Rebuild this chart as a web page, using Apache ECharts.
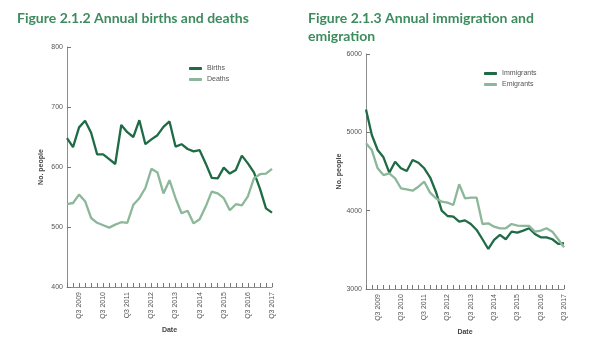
<!DOCTYPE html>
<html>
<head>
<meta charset="utf-8">
<script src="https://cdn.jsdelivr.net/npm/echarts@6/dist/echarts.min.js"></script>
<style>
  html, body { margin: 0; padding: 0; background: #fff; }
  #chart { width: 600px; height: 351px; }
</style>
</head>
<body>
<div id="chart"></div>
<script>
// quarters Q1 2009 .. Q3 2017
const quarters = [];
for (let y = 2009; y <= 2017; y++) {
  for (let q = 1; q <= 4; q++) {
    if (y === 2017 && q > 3) break;
    quarters.push('Q' + q + ' ' + y);
  }
}

const births = [648, 633, 666, 677, 657, 621, 621, 613, 605, 670, 658, 650, 678, 638, 646, 653, 667, 676,
  634, 638, 630, 626, 628, 606, 582, 581, 599, 589, 595, 619, 606, 591, 564, 531, 524];
const deaths = [538, 540, 554, 543, 515, 507, 503, 499, 504, 508, 507, 537, 548, 565, 597, 591, 556, 578,
  548, 523, 527, 506, 513, 534, 559, 556, 548, 528, 538, 536, 551, 581, 588, 589, 597];

const immigrants = [5293, 4966, 4774, 4681, 4485, 4625, 4541, 4506, 4647, 4612, 4541, 4426, 4242, 4000, 3932, 3923, 3860, 3876,
  3830, 3754, 3635, 3511, 3626, 3690, 3635, 3732, 3719, 3745, 3775, 3703, 3660, 3660, 3635, 3575, 3584];
const emigrants = [4860, 4774, 4541, 4455, 4477, 4413, 4286, 4273, 4255, 4306, 4370, 4230, 4158, 4115, 4102, 4073, 4338, 4158,
  4166, 4166, 3830, 3839, 3796, 3775, 3775, 3830, 3809, 3805, 3805, 3732, 3745, 3775, 3732, 3635, 3533];

const dark = '#1f6b45';
const light = '#8db79a';
const titleGreen = '#3d8c5e';
const axisGrey = '#8c8c8c';
const font = 'Liberation Sans';

function xAxis(gridIndex) {
  return {
    type: 'category',
    gridIndex: gridIndex,
    data: quarters,
    boundaryGap: false,
    name: 'Date',
    nameLocation: 'middle',
    nameGap: 30,
    nameTextStyle: {fontSize: 7, fontWeight: 'bold', color: '#444', fontFamily: font},
    axisLine: {lineStyle: {color: axisGrey, width: 1}},
    axisTick: {inside: true, length: 4, interval: 0, lineStyle: {color: '#777'}},
    axisLabel: {
      rotate: 90,
      fontSize: 7,
      color: '#555',
      fontFamily: font,
      margin: 5,
      interval: function (index) { return (index - 2) % 4 === 0; }
    },
    splitLine: {show: false}
  };
}

function yAxis(gridIndex, min, max, interval) {
  return {
    type: 'value',
    gridIndex: gridIndex,
    min: min,
    max: max,
    interval: interval,
    name: 'No. people',
    nameLocation: 'middle',
    nameGap: 22,
    nameTextStyle: {fontSize: 7, fontWeight: 'bold', color: '#444', fontFamily: font},
    axisLine: {show: true, lineStyle: {color: axisGrey, width: 1}},
    axisTick: {show: true, inside: true, length: 4, lineStyle: {color: '#777'}},
    axisLabel: {fontSize: 7, color: '#555', fontFamily: font, margin: 4,
      formatter: function (v) { return String(v); }},
    splitLine: {show: false}
  };
}

function line(name, data, color, idx) {
  return {
    name: name,
    type: 'line',
    xAxisIndex: idx,
    yAxisIndex: idx,
    data: data,
    showSymbol: false,
    symbol: 'none',
    lineStyle: {color: color, width: 2.3},
    itemStyle: {color: color},
    animation: false
  };
}

const chart = echarts.init(document.getElementById('chart'));
chart.setOption({
  animation: false,
  title: [
    {
      text: 'Figure 2.1.2 Annual births and deaths',
      left: 17, top: 11, padding: 0,
      textStyle: {fontSize: 14, fontWeight: 'bold', color: titleGreen, fontFamily: 'Lato'}
    },
    {
      text: 'Figure 2.1.3 Annual immigration and\nemigration',
      left: 308, top: 9, padding: 0,
      textStyle: {fontSize: 14, fontWeight: 'bold', color: titleGreen, fontFamily: 'Lato', lineHeight: 18}
    }
  ],
  legend: [
    {
      data: ['Births', 'Deaths'],
      orient: 'vertical',
      left: 184, top: 60,
      itemWidth: 13, itemHeight: 3, itemGap: 4,
      icon: 'roundRect',
      textStyle: {fontSize: 7, color: '#555', fontFamily: font}
    },
    {
      data: ['Immigrants', 'Emigrants'],
      orient: 'vertical',
      left: 479, top: 65,
      itemWidth: 13, itemHeight: 3, itemGap: 4,
      icon: 'roundRect',
      textStyle: {fontSize: 7, color: '#555', fontFamily: font}
    }
  ],
  grid: [
    {left: 67, top: 47, width: 205, height: 240, containLabel: false},
    {left: 366, top: 54, width: 198, height: 235, containLabel: false}
  ],
  xAxis: [xAxis(0), xAxis(1)],
  yAxis: [yAxis(0, 400, 800, 100), yAxis(1, 3000, 6000, 1000)],
  series: [
    line('Births', births, dark, 0),
    line('Deaths', deaths, light, 0),
    line('Immigrants', immigrants, dark, 1),
    line('Emigrants', emigrants, light, 1)
  ]
});
</script>
</body>
</html>
